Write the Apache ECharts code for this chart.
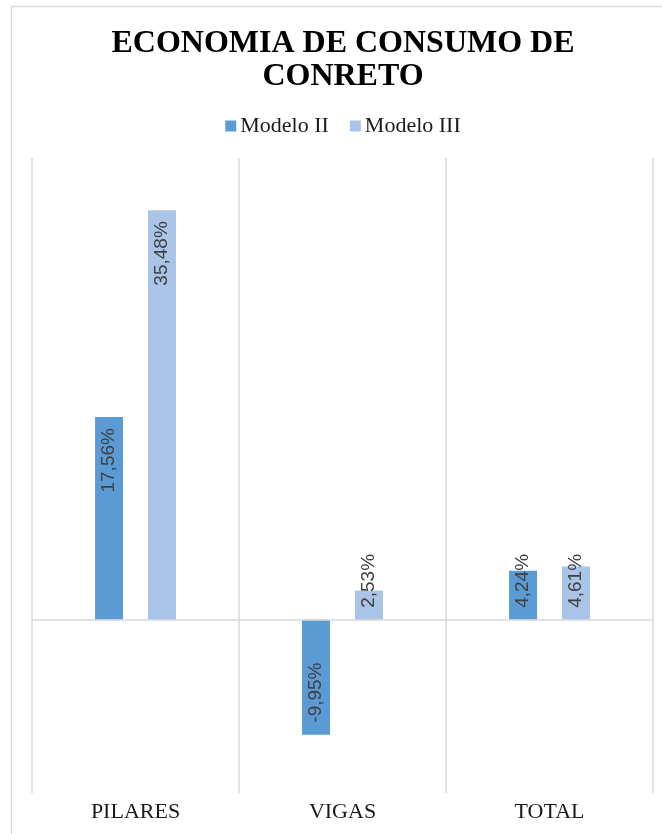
<!DOCTYPE html>
<html>
<head>
<meta charset="utf-8">
<script src="https://cdn.jsdelivr.net/npm/echarts@6/dist/echarts.min.js"></script>
<style>
  html, body { margin: 0; padding: 0; overflow: hidden; background: #fff; }
  #chart { width: 686px; height: 834px; }
</style>
</head>
<body>
<div id="chart"></div>
<script>
const categories = ['PILARES', 'VIGAS', 'TOTAL'];
const seriesNames = ['Modelo II', 'Modelo III'];
const modeloII = [17.56, -9.95, 4.24];
const modeloIII = [35.48, 2.53, 4.61];
const colors = ['#5B9BD5', '#A9C4E6'];

function fmt(v) { return v.toFixed(2).replace('.', ',') + '%'; }

function items(values) {
  return values.map(function (v) {
    const tall = v > 10;
    return {
      value: v,
      label: tall
        ? { position: 'insideTop', align: 'right', verticalAlign: 'middle', distance: 11 }
        : { position: 'insideBottom', align: 'left', verticalAlign: 'middle', distance: 12 }
    };
  });
}

const labelBase = {
  show: true,
  rotate: 90,
  fontFamily: 'Liberation Sans',
  fontSize: 19,
  color: '#404040',
  formatter: function (p) { return fmt(p.value); }
};

const chart = echarts.init(document.getElementById('chart'), null, { renderer: 'canvas' });
chart.setOption({
  animation: false,
  backgroundColor: '#fff',
  graphic: [{
    type: 'rect',
    z: -10,
    shape: { x: 11.5, y: 6.5, width: 760, height: 900 },
    style: { fill: 'none', stroke: '#D9D9D9', lineWidth: 1.5 }
  }],
  title: {
    text: 'ECONOMIA DE CONSUMO DE\nCONRETO',
    left: 'center',
    top: 22,
    textStyle: {
      fontFamily: 'Liberation Serif',
      fontWeight: 'bold',
      fontSize: 32,
      lineHeight: 33,
      color: '#000'
    }
  },
  legend: {
    data: seriesNames,
    left: 'center',
    top: 110,
    icon: 'rect',
    itemWidth: 11,
    itemHeight: 11,
    itemGap: 21,
    textStyle: { fontFamily: 'Liberation Serif', fontSize: 22, color: '#1a1a1a', padding: [0, 0, 0, -1] }
  },
  grid: { left: 32, right: 33, top: 158, bottom: 41, containLabel: false },
  xAxis: {
    type: 'category',
    data: categories,
    position: 'bottom',
    axisLine: { show: false, onZero: false },
    axisTick: { show: false },
    splitLine: { show: true, lineStyle: { color: '#D9D9D9', width: 1.5 } },
    axisLabel: { fontFamily: 'Liberation Serif', fontSize: 22, color: '#1a1a1a', margin: 8 }
  },
  yAxis: {
    type: 'value',
    min: -15,
    max: 40,
    interval: 5,
    axisLine: { show: false },
    axisTick: { show: false },
    axisLabel: { show: false },
    splitLine: { show: false }
  },
  series: [
    {
      name: seriesNames[0],
      type: 'bar',
      data: items(modeloII),
      barWidth: 28,
      barGap: '89%',
      itemStyle: { color: colors[0] },
      label: labelBase,
      markLine: {
        silent: true,
        symbol: 'none',
        label: { show: false },
        lineStyle: { color: '#D9D9D9', width: 1.5, type: 'solid' },
        data: [{ yAxis: 0 }]
      }
    },
    {
      name: seriesNames[1],
      type: 'bar',
      data: items(modeloIII),
      barWidth: 28,
      barGap: '89%',
      itemStyle: { color: colors[1] },
      label: labelBase
    }
  ]
});
</script>
</body>
</html>
